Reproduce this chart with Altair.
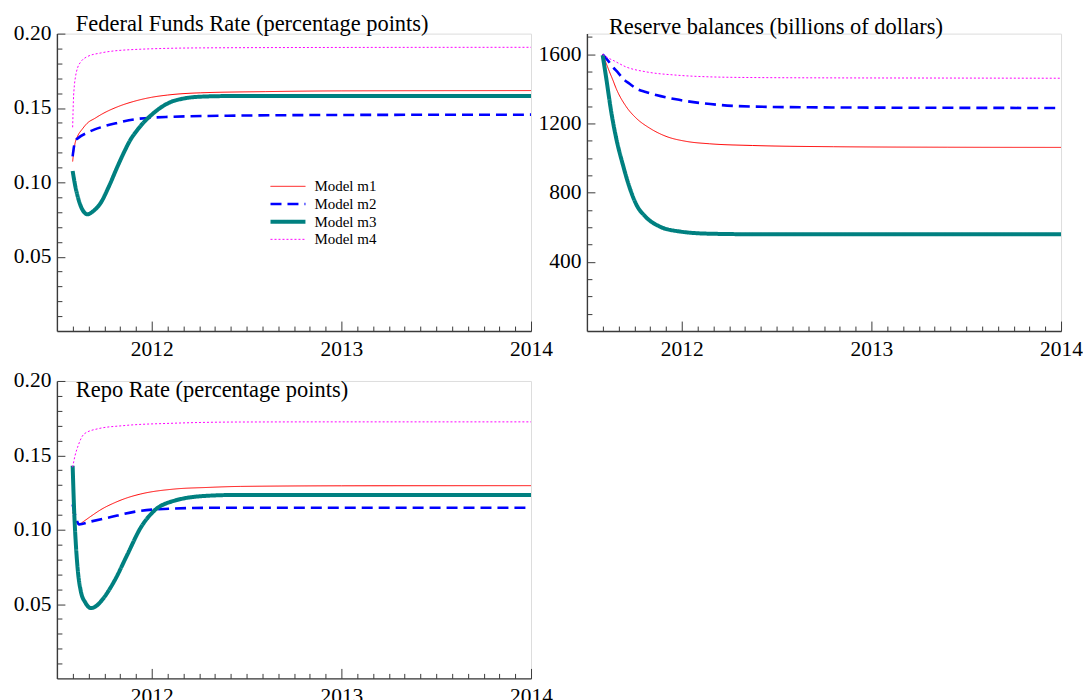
import altair as alt
import pandas as pd

MODELS = ["Model m1", "Model m2", "Model m3", "Model m4"]
COLORS = ["#ff0000", "#0000ff", "#008080", "#ff00ff"]
DASHES = [[1, 0], [11, 6], [1, 0], [2, 2]]
WIDTHS = [1.0, 2.6, 4.0, 1.0]

# ---------------- Federal Funds Rate (percentage points) ----------------
ffr_m1_t = [2011.583, 2011.590, 2011.597, 2011.609, 2011.635, 2011.662, 2011.7, 2011.732, 2011.82, 2011.905, 2012.0, 2012.084, 2012.258, 2012.6, 2013.0, 2014.0]
ffr_m1_v = [0.114, 0.122, 0.127, 0.131, 0.136, 0.140, 0.143, 0.1455, 0.1508, 0.1544, 0.1572, 0.1587, 0.1602, 0.161, 0.1615, 0.1617]

ffr_m2_t = [2011.583, 2011.590, 2011.597, 2011.609, 2011.662, 2011.732, 2011.82, 2011.905, 2012.084, 2012.4, 2013.0, 2014.0]
ffr_m2_v = [0.1175, 0.124, 0.128, 0.1295, 0.1335, 0.137, 0.140, 0.1423, 0.144, 0.1448, 0.1453, 0.1455]

ffr_m3_t = [2011.583, 2011.596, 2011.609, 2011.635, 2011.662, 2011.69, 2011.732, 2011.775, 2011.819, 2011.855, 2011.889, 2011.92, 2011.959, 2012.0, 2012.05, 2012.1, 2012.17, 2012.26, 2012.4, 2013.0, 2014.0]
ffr_m3_v = [0.1076, 0.098, 0.0908, 0.0815, 0.0785, 0.0805, 0.0864, 0.0975, 0.1105, 0.1205, 0.1289, 0.1345, 0.1405, 0.1455, 0.1505, 0.1540, 0.1564, 0.1576, 0.158, 0.158, 0.158]

ffr_m4_t = [2011.583, 2011.587, 2011.592, 2011.598, 2011.609, 2011.626, 2011.66, 2011.732, 2011.905, 2012.258, 2013.0, 2014.0]
ffr_m4_v = [0.137, 0.155, 0.165, 0.171, 0.177, 0.181, 0.1845, 0.187, 0.1893, 0.1904, 0.1907, 0.1908]

# ---------------- Reserve balances (billions of dollars) ----------------
res_m1_t = [2011.583, 2011.602, 2011.619, 2011.637, 2011.654, 2011.707, 2011.759, 2011.83, 2011.917, 2012.023, 2012.146, 2012.374, 2012.8, 2013.4, 2014.0]
res_m1_v = [1600, 1547, 1499, 1451, 1403, 1298, 1232, 1174, 1126, 1097, 1083, 1073, 1066, 1063, 1062]

res_m2_t = [2011.583, 2011.61, 2011.637, 2011.665, 2011.689, 2011.725, 2011.759, 2011.81, 2011.865, 2011.97, 2012.111, 2012.374, 2012.8, 2013.4, 2014.0]
res_m2_v = [1600, 1565, 1527, 1493, 1461, 1430, 1403, 1382, 1365, 1340, 1317, 1298, 1293, 1291, 1290]

res_m3_t = [2011.583, 2011.602, 2011.628, 2011.654, 2011.689, 2011.725, 2011.759, 2011.812, 2011.883, 2011.988, 2012.146, 2012.374, 2012.8, 2013.4, 2014.0]
res_m3_v = [1595, 1461, 1269, 1117, 964, 830, 735, 658, 605, 576, 563, 560, 560, 560, 560]

res_m4_t = [2011.583, 2011.61, 2011.637, 2011.707, 2011.812, 2011.97, 2012.146, 2012.374, 2012.8, 2013.4, 2014.0]
res_m4_v = [1600, 1580, 1566, 1527, 1499, 1480, 1470, 1466, 1464, 1463, 1462]

# ---------------- Repo Rate (percentage points) ----------------
repo_m1_t = [2011.583, 2011.600, 2011.617, 2011.64, 2011.679, 2011.732, 2011.802, 2011.872, 2011.942, 2012.117, 2012.293, 2012.468, 2013.0, 2014.0]
repo_m1_v = [0.112, 0.106, 0.1036, 0.1055, 0.109, 0.1135, 0.118, 0.1215, 0.124, 0.1273, 0.1284, 0.1291, 0.1295, 0.1296]

repo_m2_t = [2011.583, 2011.600, 2011.617, 2011.679, 2011.767, 2011.942, 2012.117, 2012.293, 2012.6, 2014.0]
repo_m2_v = [0.117, 0.108, 0.1036, 0.1055, 0.108, 0.1127, 0.1142, 0.1147, 0.1148, 0.1148]

repo_m3_t = [2011.583, 2011.591, 2011.600, 2011.609, 2011.626, 2011.65, 2011.679, 2011.705, 2011.732, 2011.802, 2011.872, 2011.942, 2012.012, 2012.117, 2012.293, 2012.468, 2013.0, 2014.0]
repo_m3_v = [0.143, 0.1126, 0.090, 0.0743, 0.0586, 0.051, 0.0473, 0.0485, 0.0518, 0.0653, 0.0834, 0.1014, 0.1126, 0.1194, 0.1228, 0.1234, 0.1234, 0.1234]

repo_m4_t = [2011.583, 2011.596, 2011.609, 2011.644, 2011.714, 2011.854, 2012.117, 2012.468, 2013.0, 2014.0]
repo_m4_v = [0.142, 0.150, 0.1554, 0.1644, 0.1678, 0.170, 0.1716, 0.1724, 0.1725, 0.1725]

# ---------------- axis ticks ----------------
X_DOMAIN = [2011.5, 2014.0]
X_TICKS = [round(2011.5 + k / 12, 4) for k in range(1, 31)]
RATE_TICKS = [round(k * 0.01, 2) for k in range(1, 21)]
RES_TICKS = list(range(100, 1800, 100))

FONT = "Liberation Serif"
AX = "#3a3a3a"
PW, PH = 475, 298
LABEL_SIZE = 21.5
TITLE_SIZE = 22.5


def frame(series):
    rows = []
    for model, (ts, vs) in zip(MODELS, series):
        for t, v in zip(ts, vs):
            rows.append({"t": t, "v": v, "model": model})
    return pd.DataFrame(rows)


ffr_df = frame([(ffr_m1_t, ffr_m1_v), (ffr_m2_t, ffr_m2_v), (ffr_m3_t, ffr_m3_v), (ffr_m4_t, ffr_m4_v)])
res_df = frame([(res_m1_t, res_m1_v), (res_m2_t, res_m2_v), (res_m3_t, res_m3_v), (res_m4_t, res_m4_v)])
repo_df = frame([(repo_m1_t, repo_m1_v), (repo_m2_t, repo_m2_v), (repo_m3_t, repo_m3_v), (repo_m4_t, repo_m4_v)])

x_major = "abs(datum.value - round(datum.value)) < 0.001"
xaxis = alt.Axis(
    values=X_TICKS,
    labelExpr=f"{x_major} ? format(datum.value, 'd') : ''",
    tickSize={"condition": {"test": x_major, "value": -10}, "value": -5},
    labelPadding=17,
    labelFlush=False,
    labelOverlap=False,
    labelFont=FONT,
    labelFontSize=LABEL_SIZE,
    labelColor="black",
    domainColor=AX,
    domainWidth=1.4,
    tickColor=AX,
    grid=False,
)


def yaxis(values, test, fmt):
    return alt.Axis(
        values=values,
        labelExpr=f"{test} ? format(datum.value, '{fmt}') : ''",
        tickSize={"condition": {"test": test, "value": -8}, "value": -5},
        labelPadding=14,
        labelOverlap=False,
        labelFont=FONT,
        labelFontSize=LABEL_SIZE,
        labelColor="black",
        domainColor=AX,
        domainWidth=1.4,
        tickColor=AX,
        grid=False,
    )


rate_axis = yaxis(RATE_TICKS, "abs(datum.value * 20 - round(datum.value * 20)) < 0.001", ".2f")
res_axis = yaxis(RES_TICKS, "datum.value % 400 === 0", "d")


def title(text, dx, dy):
    return alt.TitleParams(text=text, anchor="start", frame="group", dx=dx, dy=dy, offset=4,
                           baseline="alphabetic", font=FONT, fontSize=TITLE_SIZE, fontWeight="normal",
                           color="black")


def panel(df, ydomain, yax, ttl, legend):
    enc = dict(
        x=alt.X("t:Q", scale=alt.Scale(domain=X_DOMAIN, nice=False, zero=False), axis=xaxis, title=None),
        y=alt.Y("v:Q", scale=alt.Scale(domain=ydomain, nice=False, zero=False), axis=yax, title=None),
    )
    if legend:
        lg = alt.Legend(orient="none", legendX=212, legendY=145, title=None, symbolType="stroke",
                        symbolSize=1225, labelFont=FONT, labelFontSize=15, labelColor="black",
                        labelOffset=7, rowPadding=1.7, clipHeight=16, padding=0)
    else:
        lg = None
    enc["color"] = alt.Color("model:N", scale=alt.Scale(domain=MODELS, range=COLORS), legend=lg)
    enc["strokeDash"] = alt.StrokeDash("model:N", scale=alt.Scale(type="ordinal", domain=MODELS, range=DASHES), legend=lg)
    enc["strokeWidth"] = alt.StrokeWidth("model:N", scale=alt.Scale(type="ordinal", domain=MODELS, range=WIDTHS), legend=lg)
    return alt.Chart(df).mark_line(interpolate="monotone", strokeCap="butt", clip=True).encode(**enc).properties(
        width=PW, height=PH, title=ttl)


A = panel(ffr_df, [0, 0.2], rate_axis, title("Federal Funds Rate (percentage points)", 19, 35), True)
B = panel(res_df, [0, 1720], res_axis, title("Reserve balances (billions of dollars)", 22, 34), False)
C = panel(repo_df, [0, 0.2], rate_axis, title("Repo Rate (percentage points)", 19, 54), False)

chart = alt.concat(
    A, B, C, columns=2, spacing={"row": 50, "column": 56}, bounds="flush",
    padding={"left": 4, "top": 4, "right": 0, "bottom": 5},
).resolve_legend(
    color="independent", strokeDash="independent", strokeWidth="independent"
).configure_view(stroke="transparent").configure_legend(
    labelFont=FONT, labelFontSize=15, labelColor="black", labelOffset=7, rowPadding=1.7, padding=0,
    symbolType="stroke", symbolSize=1225, clipHeight=16
).configure(background="white")

chart.save("out.html", embed_options={"renderer": "svg", "actions": False})
